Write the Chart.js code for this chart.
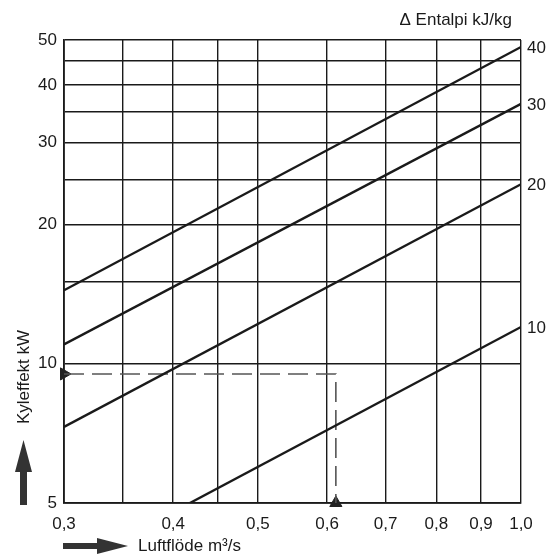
<!DOCTYPE html>
<html>
<head>
<meta charset="utf-8">
<script src="https://cdn.jsdelivr.net/npm/chart.js@4/dist/chart.umd.min.js"></script>
<style>
  body { margin: 0; background: #fff; }
</style>
</head>
<body>
<canvas id="diagram" width="558" height="557"></canvas>
<script>
// Δ Entalpi kJ/kg lines
const entalpi = [40, 30, 20, 10];
const flowStart = [0.3, 0.3, 0.3, 0.418];
const flowEnd = [1.0, 1.0, 1.0, 1.0];
const kwStart = [14.4, 11.0, 7.3, 5.0];
const kwEnd = [48.3, 36.4, 24.4, 12.0];

// dashed reading example
const exampleFlow = [0.3, 0.614, 0.614];
const exampleKw = [9.5, 9.5, 5];

// grid / ticks
const xGrid = [0.3, 0.35, 0.4, 0.45, 0.5, 0.6, 0.7, 0.8, 0.9, 1.0];
const xLabels = ['0,3', '', '0,4', '', '0,5', '0,6', '0,7', '0,8', '0,9', '1,0'];
const yGrid = [5, 10, 15, 20, 25, 30, 35, 40, 45, 50];
const yLabels = ['5', '10', '', '20', '', '30', '', '40', '', '50'];

const FONT = '"Liberation Sans", Arial, sans-serif';
const INK = '#1a1a1a';

window.addEventListener("load", () => {
    let ctx = document.getElementById("diagram").getContext("2d");

    let lineSets = entalpi.map((h, i) => ({
        label: h + ' kJ/kg',
        data: [{x: flowStart[i], y: kwStart[i]}, {x: flowEnd[i], y: kwEnd[i]}],
        borderColor: INK,
        borderWidth: 2.4,
        pointRadius: 0,
        showLine: true
    }));

    let dashed = {
        label: 'exempel',
        data: exampleFlow.map((f, i) => ({x: f, y: exampleKw[i]})),
        borderColor: '#555',
        borderWidth: 1.6,
        borderDash: [20, 8],
        pointRadius: 0,
        showLine: true
    };

    let markLeft = {
        label: 'pil1',
        data: [{x: exampleFlow[0], y: exampleKw[0]}],
        pointStyle: 'triangle',
        rotation: 90,
        pointRadius: 7,
        backgroundColor: '#222',
        borderColor: '#222',
        clip: false
    };
    let markBottom = {
        label: 'pil2',
        data: [{x: exampleFlow[2], y: exampleKw[2]}],
        pointStyle: 'triangle',
        rotation: 0,
        pointRadius: 7,
        backgroundColor: '#222',
        borderColor: '#222',
        clip: false
    };

    // titles, arrows and line labels
    let extras = {
        id: 'extras',
        afterDraw(chart) {
            let c = chart.ctx;
            let a = chart.chartArea;
            let ys = chart.scales.y;
            c.save();
            c.fillStyle = INK;

            c.font = '17px ' + FONT;
            c.textAlign = 'left';
            c.textBaseline = 'middle';
            entalpi.forEach((h, i) => {
                c.fillText(String(h), a.right + 6, ys.getPixelForValue(kwEnd[i]) + 1);
            });

            c.font = '17px ' + FONT;
            c.textAlign = 'right';
            c.textBaseline = 'alphabetic';
            c.fillText('Δ Entalpi kJ/kg', a.right - 9, 25);

            c.font = '17px ' + FONT;
            c.textAlign = 'left';
            c.textBaseline = 'middle';
            c.fillText('Luftflöde m³/s', a.left + 74, a.bottom + 43);

            c.save();
            c.translate(24, a.bottom - 126);
            c.rotate(-Math.PI / 2);
            c.textAlign = 'center';
            c.fillText('Kyleffekt kW', 0, 0);
            c.restore();

            // up arrow
            c.fillStyle = '#333';
            let ux = 23.5, tip = a.bottom - 63, hb = a.bottom - 31, bot = a.bottom + 2;
            c.beginPath();
            c.moveTo(ux, tip);
            c.lineTo(ux + 8.5, hb);
            c.lineTo(ux + 3.5, hb);
            c.lineTo(ux + 3.5, bot);
            c.lineTo(ux - 3.5, bot);
            c.lineTo(ux - 3.5, hb);
            c.lineTo(ux - 8.5, hb);
            c.closePath();
            c.fill();

            // right arrow
            let ry = a.bottom + 43, rx0 = a.left - 1, rh = a.left + 33, rtip = a.left + 64;
            c.beginPath();
            c.moveTo(rtip, ry);
            c.lineTo(rh, ry - 8);
            c.lineTo(rh, ry - 3);
            c.lineTo(rx0, ry - 3);
            c.lineTo(rx0, ry + 3);
            c.lineTo(rh, ry + 3);
            c.lineTo(rh, ry + 8);
            c.closePath();
            c.fill();
            c.restore();
        }
    };

    new Chart(ctx, {
        type: 'scatter',
        data: { datasets: [...lineSets, dashed, markLeft, markBottom] },
        options: {
            responsive: false,
            animation: false,
            layout: { padding: { top: 40, right: 37, left: 0, bottom: 0 } },
            plugins: {
                legend: { display: false },
                tooltip: { enabled: false }
            },
            scales: {
                x: {
                    type: 'logarithmic',
                    min: 0.3,
                    max: 1.0,
                    afterBuildTicks: s => { s.ticks = xGrid.map(v => ({value: v})); },
                    afterFit: s => { s.height = 54; },
                    grid: { color: INK, lineWidth: 1.4, drawTicks: false },
                    border: { color: INK, width: 1.8 },
                    ticks: {
                        autoSkip: false,
                        maxRotation: 0,
                        padding: 11,
                        color: INK,
                        font: { family: FONT, size: 17 },
                        callback: (v, i) => xLabels[i]
                    }
                },
                y: {
                    type: 'logarithmic',
                    min: 5,
                    max: 50,
                    afterBuildTicks: s => { s.ticks = yGrid.map(v => ({value: v})); },
                    afterFit: s => { s.width = 64; },
                    grid: { color: INK, lineWidth: 1.4, drawTicks: false },
                    border: { color: INK, width: 1.8 },
                    ticks: {
                        autoSkip: false,
                        padding: 7,
                        color: INK,
                        font: { family: FONT, size: 17 },
                        callback: (v, i) => yLabels[i]
                    }
                }
            }
        },
        plugins: [extras]
    });
});
</script>
</body>
</html>
